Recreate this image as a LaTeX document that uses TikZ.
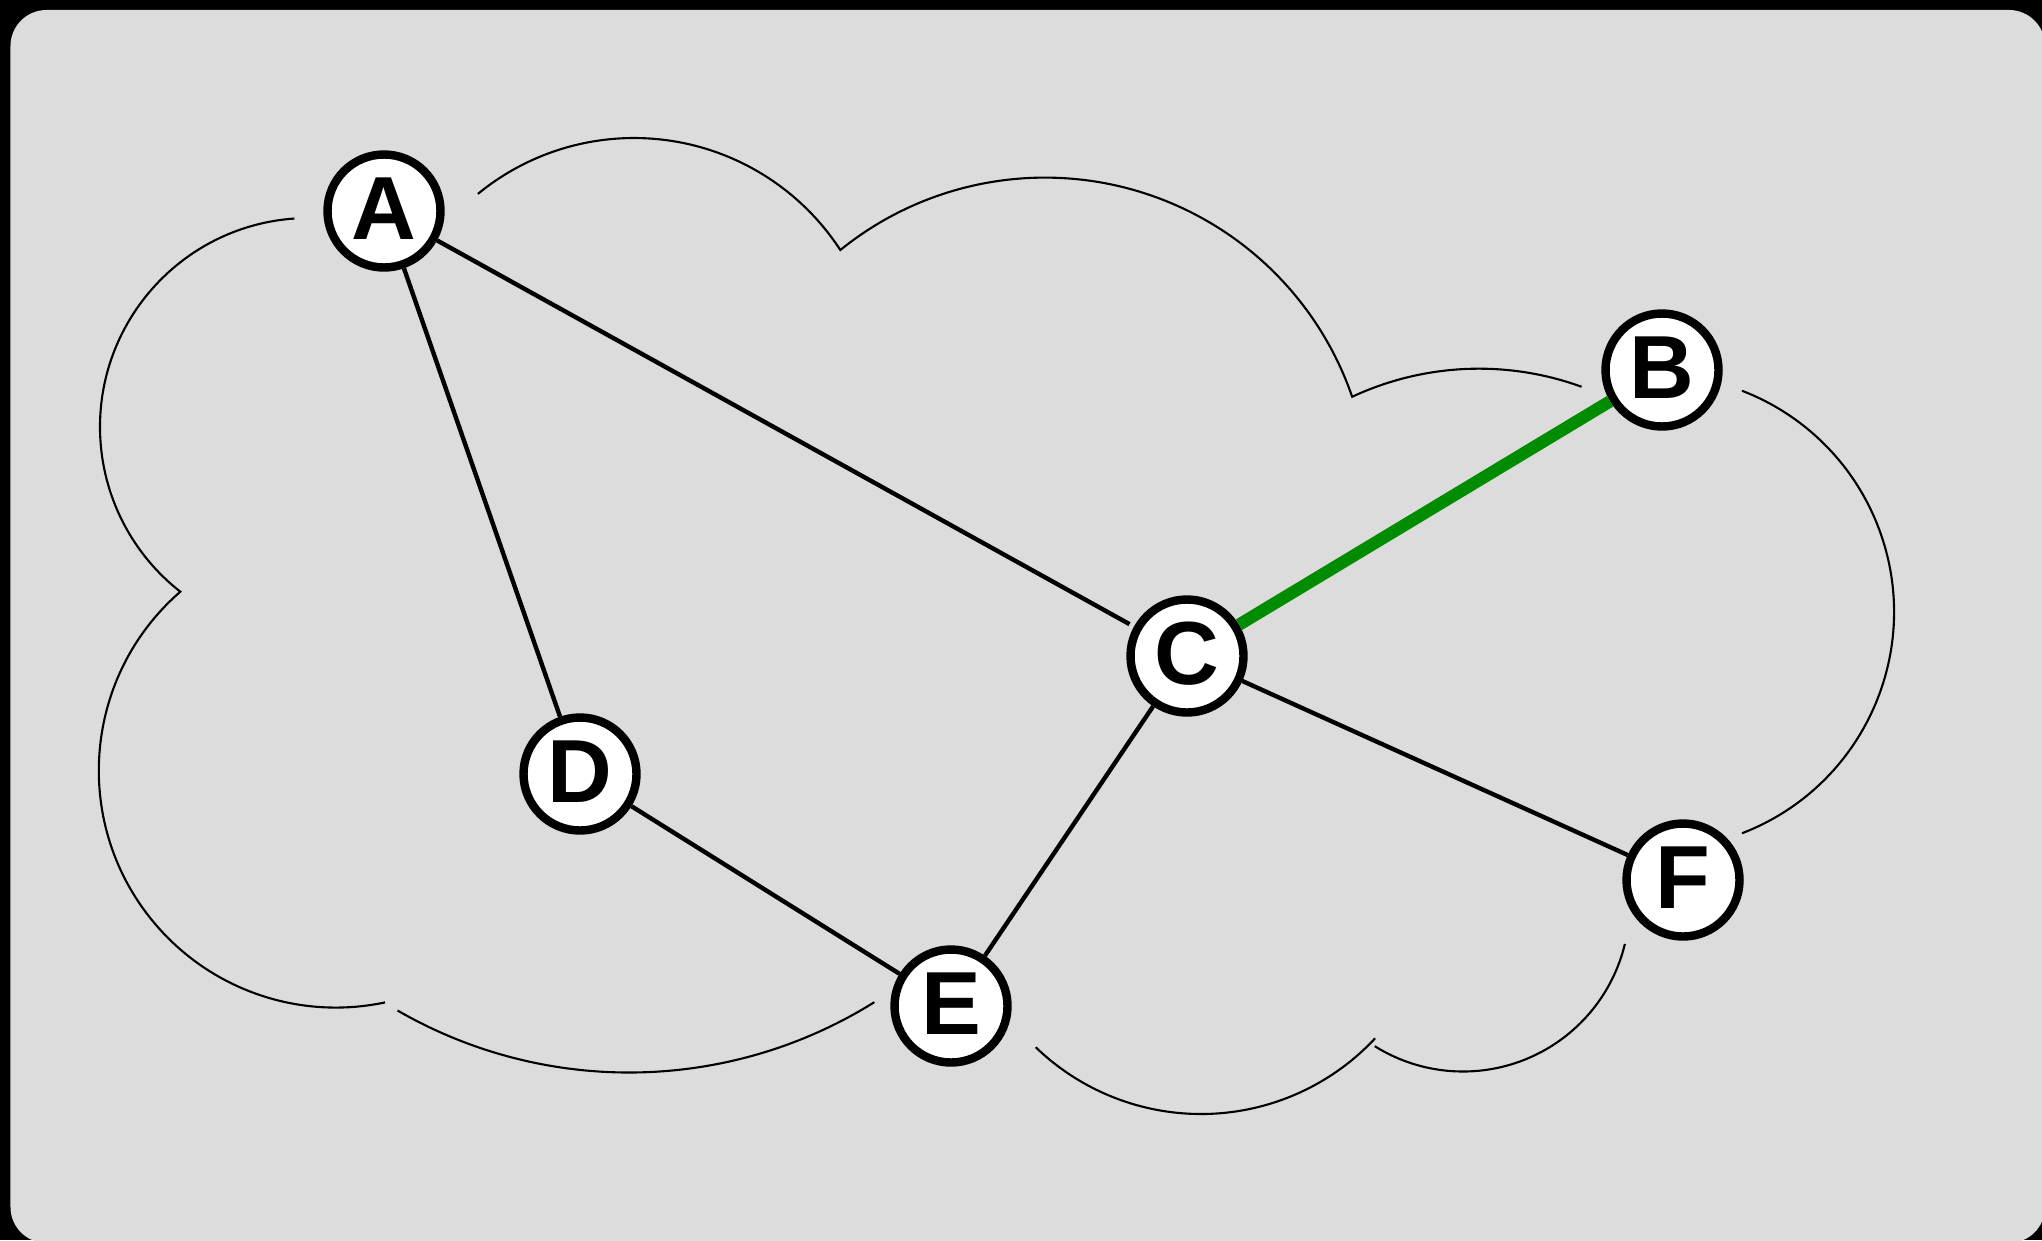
\documentclass[tikz,border=0pt]{standalone}
\usepackage{fontspec}
\setsansfont{Liberation Sans}

\definecolor{panelgrey}{RGB}{220,220,220}
\definecolor{pathgreen}{RGB}{0,140,0}

\begin{document}
\begin{tikzpicture}[scale=1,
  vertex/.style={circle, draw=black, fill=white, line width=2.4pt, minimum size=1.13cm, inner sep=0pt,
    text height=0.63cm, text depth=0.07cm, font=\sffamily\bfseries\fontsize{25.5}{30}\selectfont},
  edge/.style={black, line width=1.25pt},
  greenedge/.style={pathgreen, line width=3.5pt},
  cloud/.style={black, line width=0.6pt}]

% frame
\useasboundingbox (0,0) rectangle (20.42,12.40);
\fill[black] (0,0) rectangle (20.42,12.40);
\fill[panelgrey, rounded corners=0.36cm] (0.105,-0.03) rectangle (20.45,12.30);

%cloud outline, left side (two lobes)
\draw[cloud] (3.09,8.13) ++(94:2.09) arc[start angle=94, end angle=232, radius=2.09]
  arc[start angle=131, end angle=282, radius=2.37];

%cloud outline, top (three lobes)
\draw[cloud] (6.34,8.56) ++(129.4:2.46) arc[start angle=129.4, end angle=33, radius=2.46]
  arc[start angle=129, end angle=19, radius=3.25]
  arc[start angle=115, end angle=70, radius=3.0];

%cloud outline, right side
\draw[cloud] (16.57,6.28) ++(-69:2.37) arc[start angle=-69, end angle=69, radius=2.37];

%cloud outline, bottom
\draw[cloud] (14.63,3.35) ++(238:1.665) arc[start angle=238, end angle=346.5, radius=1.665];
\draw[cloud] (12.01,3.64) ++(226:2.38) arc[start angle=226, end angle=317, radius=2.38];
\draw[cloud] (6.29,6.305) ++(240:4.63) arc[start angle=240, end angle=302, radius=4.63];

%router nodes
\node[vertex] (A) at (3.84,10.29) {A};
\node[vertex] (B) at (16.62,8.70) {B};
\node[vertex] (C) at (11.87,5.84) {C};
\node[vertex] (D) at (5.80,4.66) {D};
\node[vertex] (E) at (9.51,2.34) {E};
\node[vertex] (F) at (16.83,3.60) {F};

%links
\draw[edge] (A) -- (D);
\draw[edge, shorten >=0.05cm] (A) -- (C);
\draw[edge] (D) -- (E);
\draw[edge] (C) -- (E);
\draw[edge] (C) -- (F);

%highlighted link
\draw[greenedge] (C) -- (B);

\end{tikzpicture}
\end{document}
